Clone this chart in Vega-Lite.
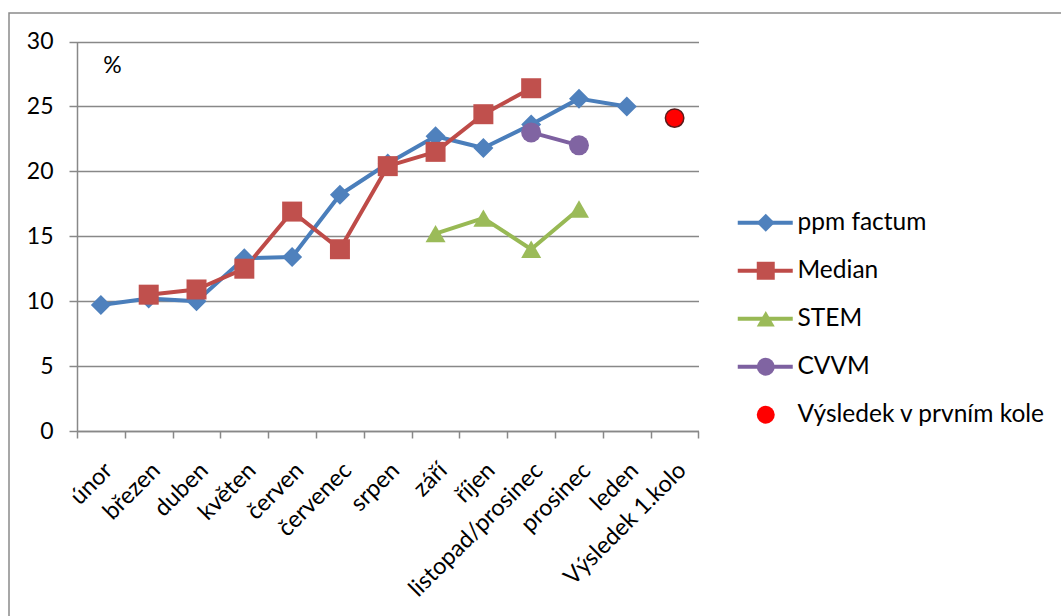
{
  "$schema": "https://vega.github.io/schema/vega-lite/v6.json",
  "width": 1053,
  "height": 604,
  "autosize": "none",
  "padding": {"left": 9, "top": 13, "right": -1, "bottom": -1},
  "background": "white",
  "data": {
    "values": [
      {"obdobi": "únor", "serie": "ppm factum", "hodnota": 9.7},
      {"obdobi": "březen", "serie": "ppm factum", "hodnota": 10.2},
      {"obdobi": "duben", "serie": "ppm factum", "hodnota": 10.0},
      {"obdobi": "květen", "serie": "ppm factum", "hodnota": 13.3},
      {"obdobi": "červen", "serie": "ppm factum", "hodnota": 13.4},
      {"obdobi": "červenec", "serie": "ppm factum", "hodnota": 18.2},
      {"obdobi": "srpen", "serie": "ppm factum", "hodnota": 20.6},
      {"obdobi": "září", "serie": "ppm factum", "hodnota": 22.7},
      {"obdobi": "říjen", "serie": "ppm factum", "hodnota": 21.8},
      {"obdobi": "listopad/prosinec", "serie": "ppm factum", "hodnota": 23.6},
      {"obdobi": "prosinec", "serie": "ppm factum", "hodnota": 25.6},
      {"obdobi": "leden", "serie": "ppm factum", "hodnota": 25.0},
      {"obdobi": "březen", "serie": "Median", "hodnota": 10.5},
      {"obdobi": "duben", "serie": "Median", "hodnota": 10.9},
      {"obdobi": "květen", "serie": "Median", "hodnota": 12.5},
      {"obdobi": "červen", "serie": "Median", "hodnota": 16.9},
      {"obdobi": "červenec", "serie": "Median", "hodnota": 14.0},
      {"obdobi": "srpen", "serie": "Median", "hodnota": 20.4},
      {"obdobi": "září", "serie": "Median", "hodnota": 21.5},
      {"obdobi": "říjen", "serie": "Median", "hodnota": 24.4},
      {"obdobi": "listopad/prosinec", "serie": "Median", "hodnota": 26.4},
      {"obdobi": "září", "serie": "STEM", "hodnota": 15.2},
      {"obdobi": "říjen", "serie": "STEM", "hodnota": 16.4},
      {"obdobi": "listopad/prosinec", "serie": "STEM", "hodnota": 14.0},
      {"obdobi": "prosinec", "serie": "STEM", "hodnota": 17.1},
      {"obdobi": "listopad/prosinec", "serie": "CVVM", "hodnota": 23.0},
      {"obdobi": "prosinec", "serie": "CVVM", "hodnota": 22.0},
      {"obdobi": "Výsledek 1.kolo", "serie": "Výsledek v prvním kole", "hodnota": 24.1}
    ]
  },
  "encoding": {
    "x": {
      "field": "obdobi",
      "type": "ordinal",
      "scale": {
        "type": "band",
        "domain": ["únor", "březen", "duben", "květen", "červen", "červenec", "srpen", "září", "říjen", "listopad/prosinec", "prosinec", "leden", "Výsledek 1.kolo"],
        "range": [68, 689.5],
        "paddingInner": 0,
        "paddingOuter": 0
      },
      "axis": {
        "title": null,
        "offset": -186,
        "grid": false,
        "tickBand": "extent",
        "tickSize": 7,
        "tickWidth": 1.5,
        "tickColor": "#888888",
        "domainColor": "#888888",
        "domainWidth": 1.5,
        "labelAngle": -45,
        "labelAlign": "right",
        "labelBaseline": "top",
        "labelPadding": 20,
        "labelOffset": -1,
        "labelFont": "Lato",
        "labelFontSize": 23.5,
        "labelColor": "#000000",
        "labelOverlap": false,
        "labelLimit": 400
      }
    },
    "y": {
      "field": "hodnota",
      "type": "quantitative",
      "scale": {"domain": [0, 30], "range": [418, 28.5], "nice": false, "zero": true},
      "axis": {
        "title": "%",
        "titleAngle": 0,
        "titleX": 35,
        "titleY": 52,
        "titleAlign": "center",
        "titleBaseline": "middle",
        "titleFont": "Lato",
        "titleFontSize": 23,
        "titleFontWeight": "normal",
        "titleColor": "#000000",
        "values": [0, 5, 10, 15, 20, 25, 30],
        "offset": -68,
        "grid": true,
        "gridColor": "#888888",
        "gridWidth": 1.5,
        "tickSize": 8,
        "tickWidth": 1.5,
        "tickColor": "#888888",
        "domainColor": "#888888",
        "domainWidth": 1.5,
        "labelPadding": 16,
        "labelFont": "Lato",
        "labelFontSize": 23,
        "labelColor": "#000000"
      }
    }
  },
  "layer": [
    {
      "transform": [{"filter": "datum.serie !== 'Výsledek v prvním kole'"}],
      "mark": {"type": "line", "strokeWidth": 4, "strokeJoin": "round", "strokeCap": "round"},
      "encoding": {
        "stroke": {
          "field": "serie",
          "type": "nominal",
          "scale": {
            "domain": ["ppm factum", "Median", "STEM", "CVVM"],
            "range": ["#4A7EBB", "#BE4B48", "#98B954", "#7D60A0"]
          },
          "legend": {
            "orient": "none",
            "legendX": 744,
            "legendY": 197.5,
            "title": null,
            "padding": 0,
            "symbolType": "M-2.75,0H2.75",
            "symbolSize": 400,
            "symbolStrokeWidth": 4,
            "symbolOpacity": 1,
            "labelFont": "Lato",
            "labelFontSize": 24.5,
            "labelColor": "transparent",
            "labelOffset": 18,
            "labelLimit": 400,
            "rowPadding": 23
          }
        }
      }
    },
    {
      "mark": {"type": "point", "filled": true, "opacity": 1},
      "encoding": {
        "fill": {
          "field": "serie",
          "type": "nominal",
          "scale": {
            "domain": ["ppm factum", "Median", "STEM", "CVVM", "Výsledek v prvním kole"],
            "range": ["#4F81BD", "#C0504D", "#9BBB59", "#8064A2", "#FF0000"]
          },
          "legend": {
            "orient": "none",
            "legendX": 744.5,
            "legendY": 197.5,
            "title": null,
            "padding": 0,
            "symbolSize": 324,
            "symbolOpacity": 1,
            "labelFont": "Lato",
            "labelFontSize": 24.5,
            "labelColor": "#000000",
            "labelOffset": 19.5,
            "labelLimit": 400,
            "rowPadding": 23
          }
        },
        "shape": {
          "field": "serie",
          "type": "nominal",
          "scale": {
            "domain": ["ppm factum", "Median", "STEM", "CVVM", "Výsledek v prvním kole"],
            "range": ["diamond", "square", "triangle-up", "circle", "circle"]
          },
          "legend": {
            "orient": "none",
            "legendX": 744.5,
            "legendY": 197.5,
            "title": null,
            "padding": 0,
            "symbolSize": 324,
            "symbolOpacity": 1,
            "labelFont": "Lato",
            "labelFontSize": 24.5,
            "labelColor": "#000000",
            "labelOffset": 19.5,
            "labelLimit": 400,
            "rowPadding": 23
          }
        },
        "size": {
          "condition": {"test": "datum.serie === 'Výsledek v prvním kole'", "value": 340},
          "value": 400
        },
        "stroke": {
          "condition": {"test": "datum.serie === 'Výsledek v prvním kole'", "value": "#5C1A1A"},
          "value": null
        },
        "strokeWidth": {"value": 1.5}
      }
    }
  ],
  "config": {
    "view": {"stroke": "#8A8A8A", "strokeWidth": 1.5},
    "font": "Lato"
  }
}
